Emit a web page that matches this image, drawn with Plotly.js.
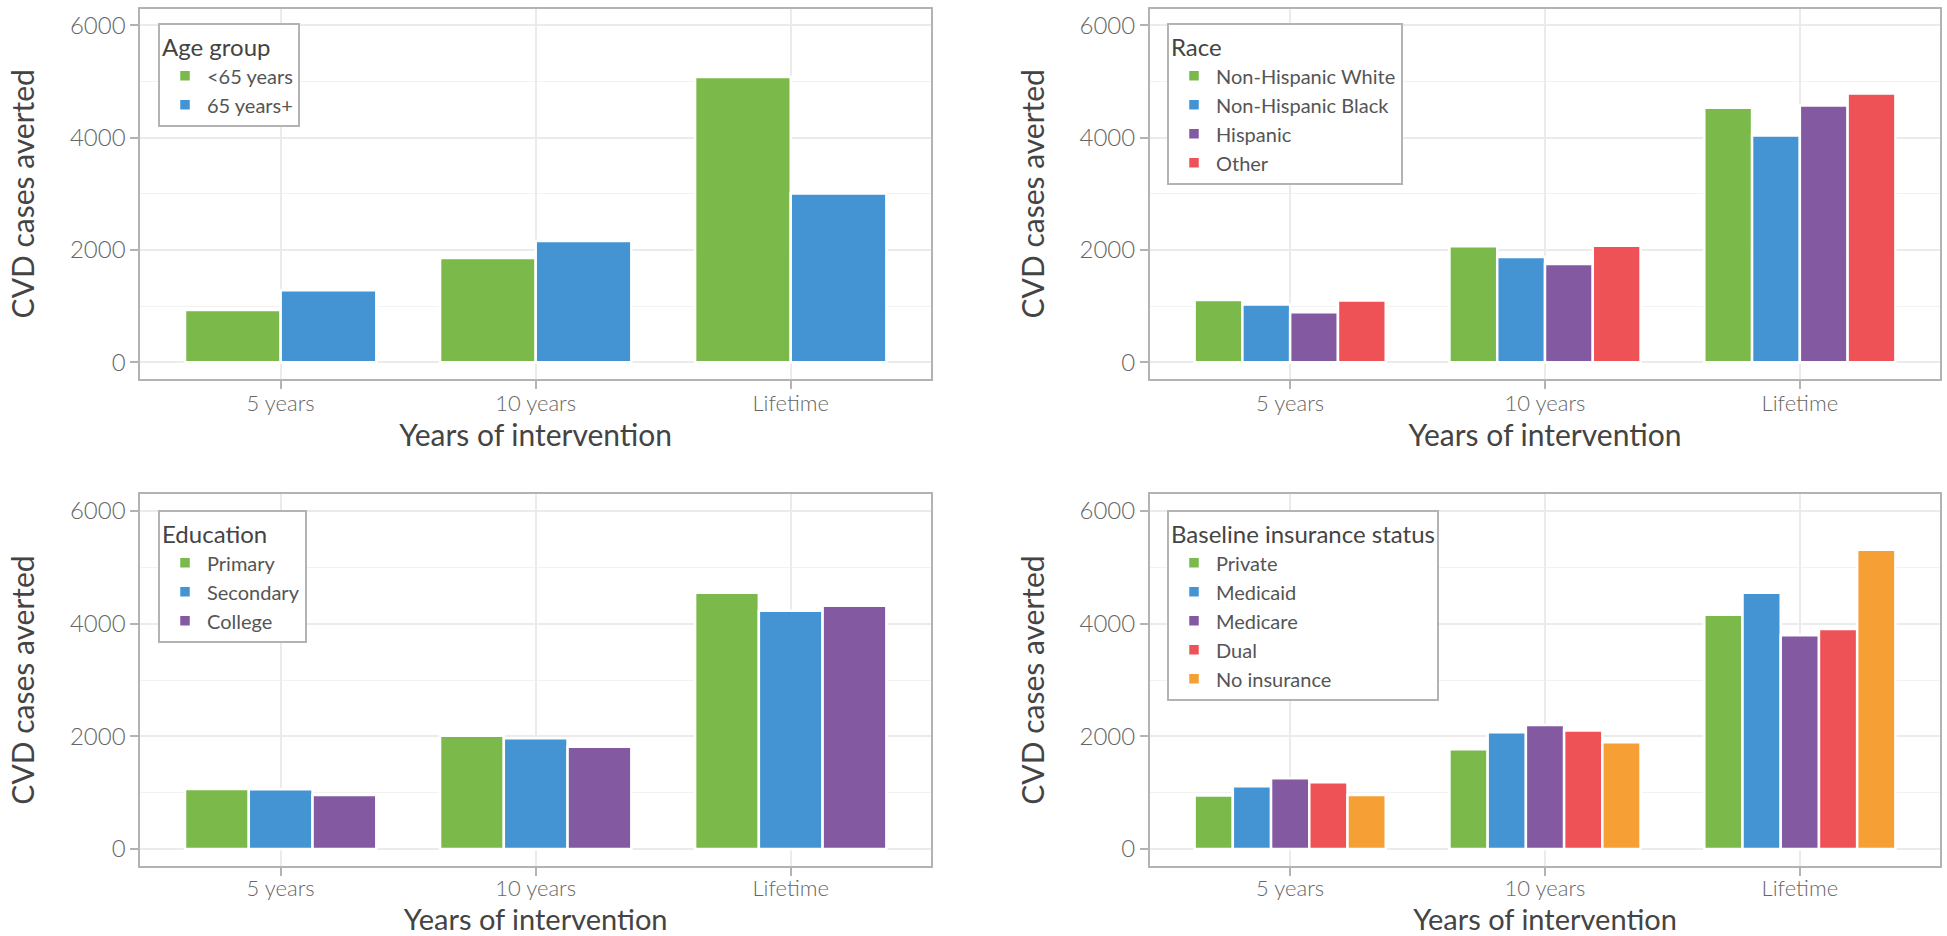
<!DOCTYPE html>
<html>
<head>
<meta charset="utf-8">
<script src="https://cdn.plot.ly/plotly-3.0.1.min.js"></script>
<style>
html,body{margin:0;padding:0;background:#fff;overflow:hidden;}
#chart{width:1947px;height:936px;}
</style>
</head>
<body>
<div id="chart"></div>
<script>
// ---- Data ----
const categories = ['5 years', '10 years', 'Lifetime'];

const ageLabels = ['<65 years', '65 years+'];
const ageUnder65 = [931, 1856, 5081];
const age65Plus = [1281, 2158, 3006];

const raceLabels = ['Non-Hispanic White', 'Non-Hispanic Black', 'Hispanic', 'Other'];
const raceNHWhite = [1109, 2063, 4530];
const raceNHBlack = [1026, 1873, 4037];
const raceHispanic = [889, 1749, 4571];
const raceOther = [1097, 2075, 4785];

const eduLabels = ['Primary', 'Secondary', 'College'];
const eduPrimary = [1067, 2010, 4547];
const eduSecondary = [1061, 1968, 4227];
const eduCollege = [960, 1814, 4316];

const insLabels = ['Private', 'Medicaid', 'Medicare', 'Dual', 'No insurance'];
const insPrivate = [949, 1773, 4156];
const insMedicaid = [1115, 2075, 4547];
const insMedicare = [1257, 2200, 3794];
const insDual = [1186, 2105, 3907];
const insNone = [960, 1897, 5312];

const legendTitles = ['Age group', 'Race', 'Education', 'Baseline insurance status'];
const xTitle = 'Years of intervention';
const yTitle = 'CVD cases averted';
const yTicks = [0, 2000, 4000, 6000];

// ---- Style ----
const palette = ['#7ab94a', '#4494d3', '#8359a2', '#ef5256', '#f69f34'];
const FONT = 'Lato, "Open Sans", sans-serif';

const panels = [
  {labels: ageLabels, series: [ageUnder65, age65Plus]},
  {labels: raceLabels, series: [raceNHWhite, raceNHBlack, raceHispanic, raceOther]},
  {labels: eduLabels, series: [eduPrimary, eduSecondary, eduCollege]},
  {labels: insLabels, series: [insPrivate, insMedicaid, insMedicare, insDual, insNone]}
];

const W = 1947, H = 936;
const xDomains = [[140.4 / W, 931 / W], [1150 / W, 1940 / W]];
const yDomains = [[(H - 379) / H, (H - 8.5) / H], [(H - 866) / H, (H - 494) / H]];
const legendPos = [
  {x: 158 / W, y: (H - 23) / H},
  {x: 1167 / W, y: (H - 23) / H},
  {x: 158 / W, y: (H - 510) / H},
  {x: 1167 / W, y: (H - 510) / H}
];
// per-row x label / title tweaks (bottom row sits against the page edge)
const rowLabelStandoff = [-4, -6];
const rowTitleSize = [30, 29];

const traces = [];
const layout = {
  width: W, height: H,
  margin: {l: 0, r: 0, t: 0, b: 0},
  paper_bgcolor: '#ffffff',
  plot_bgcolor: '#ffffff',
  barmode: 'group',
  bargap: 0.25,
  bargroupgap: 0,
  font: {family: FONT, color: '#555'},
  showlegend: true
};

panels.forEach((p, i) => {
  const n = i + 1;
  const xa = n === 1 ? 'x' : 'x' + n;
  const ya = n === 1 ? 'y' : 'y' + n;
  const lg = n === 1 ? 'legend' : 'legend' + n;
  p.series.forEach((vals, j) => {
    traces.push({
      type: 'bar',
      x: categories,
      y: vals,
      name: p.labels[j],
      xaxis: xa, yaxis: ya,
      legend: lg,
      marker: {color: palette[j], line: {color: '#ffffff', width: 2.5}},
      hoverinfo: 'x+y+name'
    });
  });
  const col = i % 2, row = Math.floor(i / 2);
  layout[n === 1 ? 'xaxis' : 'xaxis' + n] = {
    domain: xDomains[col],
    anchor: ya,
    type: 'category',
    categoryorder: 'array',
    categoryarray: categories,
    range: [-0.55, 2.55],
    showgrid: true, gridcolor: '#ebebeb', gridwidth: 2,
    zeroline: false,
    showline: true, mirror: true, linecolor: '#b3b3b3', linewidth: 2,
    ticks: 'outside', ticklen: 8, tickwidth: 2, tickcolor: '#b3b3b3',
    ticklabelstandoff: rowLabelStandoff[row],
    tickfont: {family: FONT, size: 22, color: '#666', weight: 300},
    title: {text: xTitle, font: {family: FONT, size: rowTitleSize[row], color: '#444'}, standoff: 8},
    fixedrange: true
  };
  layout[n === 1 ? 'yaxis' : 'yaxis' + n] = {
    domain: yDomains[row],
    anchor: xa,
    range: [-300, 6300],
    tickmode: 'array',
    tickvals: yTicks,
    ticktext: yTicks.map(String),
    showgrid: true, gridcolor: '#ebebeb', gridwidth: 2,
    minor: {tickmode: 'array', tickvals: [1000, 3000, 5000], showgrid: true, gridcolor: '#f2f2f2', gridwidth: 1, ticks: ''},
    zeroline: false,
    showline: true, mirror: true, linecolor: '#b3b3b3', linewidth: 2,
    ticks: 'outside', ticklen: 8, tickwidth: 2, tickcolor: '#b3b3b3',
    tickfont: {family: FONT, size: 24, color: '#666', weight: 300},
    title: {text: yTitle, font: {family: FONT, size: 30, color: '#444'}, standoff: 26},
    fixedrange: true
  };
  layout[lg] = {
    x: legendPos[i].x, y: legendPos[i].y,
    xanchor: 'left', yanchor: 'top',
    xref: 'paper', yref: 'paper',
    bgcolor: '#ffffff',
    bordercolor: '#b3b3b3', borderwidth: 2,
    traceorder: 'normal',
    tracegroupgap: 0,
    itemwidth: 34,
    indentation: 3,
    font: {family: FONT, size: 20, color: '#555'},
    title: {text: legendTitles[i], font: {family: FONT, size: 24, color: '#444'}}
  };
});

Plotly.newPlot('chart', traces, layout, {displayModeBar: false, staticPlot: false, responsive: false});
</script>
</body>
</html>
